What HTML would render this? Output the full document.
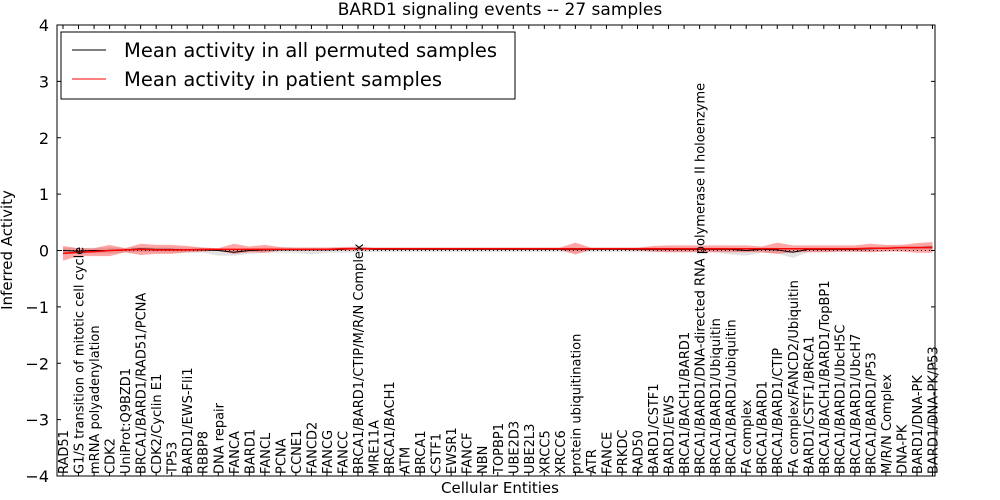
<!DOCTYPE html>
<html><head><meta charset="utf-8"><style>
html,body{margin:0;padding:0;background:#fff;}
svg{display:block;font-family:"DejaVu Sans","Liberation Sans",sans-serif;}
</style></head><body>
<svg id="chart" width="1000" height="500"></svg>
<script>
const categories=["RAD51","G1/S transition of mitotic cell cycle","mRNA polyadenylation","CDK2","UniProt:Q9BZD1","BRCA1/BARD1/RAD51/PCNA","CDK2/Cyclin E1","TP53","BARD1/EWS-Fli1","RBBP8","DNA repair","FANCA","BARD1","FANCL","PCNA","CCNE1","FANCD2","FANCG","FANCC","BRCA1/BARD1/CTIP/M/R/N Complex","MRE11A","BRCA1/BACH1","ATM","BRCA1","CSTF1","EWSR1","FANCF","NBN","TOPBP1","UBE2D3","UBE2L3","XRCC5","XRCC6","protein ubiquitination","ATR","FANCE","PRKDC","RAD50","BARD1/CSTF1","BARD1/EWS","BRCA1/BACH1/BARD1","BRCA1/BARD1/DNA-directed RNA polymerase II holoenzyme","BRCA1/BARD1/Ubiquitin","BRCA1/BARD1/ubiquitin","FA complex","BRCA1/BARD1","BRCA1/BARD1/CTIP","FA complex/FANCD2/Ubiquitin","BARD1/CSTF1/BRCA1","BRCA1/BACH1/BARD1/TopBP1","BRCA1/BARD1/UbcH5C","BRCA1/BARD1/UbcH7","BRCA1/BARD1/P53","M/R/N Complex","DNA-PK","BARD1/DNA-PK","BARD1/DNA-PK/P53"];
const patientMean=[-0.05,-0.03,-0.02,0,0.01,0.02,0.01,0.01,0.01,0.02,0.02,0.02,0.02,0.02,0.02,0.02,0.02,0.02,0.03,0.03,0.03,0.03,0.03,0.03,0.03,0.03,0.03,0.03,0.03,0.03,0.03,0.03,0.03,0.03,0.03,0.03,0.03,0.03,0.03,0.03,0.03,0.03,0.03,0.03,0.03,0.03,0.03,0.03,0.03,0.03,0.03,0.03,0.04,0.04,0.05,0.05,0.05];
const patientUpper=[0.08,0.04,0.04,0.1,0.04,0.12,0.1,0.1,0.08,0.05,0.04,0.12,0.07,0.1,0.06,0.05,0.05,0.05,0.06,0.07,0.05,0.05,0.05,0.05,0.05,0.05,0.05,0.05,0.05,0.05,0.05,0.05,0.05,0.14,0.05,0.05,0.05,0.05,0.08,0.09,0.09,0.09,0.09,0.09,0.09,0.07,0.14,0.09,0.09,0.09,0.09,0.09,0.12,0.1,0.1,0.13,0.15];
const patientLower=[-0.18,-0.1,-0.1,-0.1,-0.03,-0.08,-0.06,-0.06,-0.03,-0.02,0,-0.06,-0.03,-0.04,0,0,0,0,0,0,0.01,0.01,0.01,0.01,0.01,0.01,0.01,0.01,0.01,0.01,0.01,0.01,0.01,-0.07,0.01,0.01,0.01,0,-0.02,-0.03,-0.03,-0.03,-0.03,-0.03,-0.03,-0.03,-0.06,-0.03,-0.03,-0.03,-0.02,-0.02,-0.03,-0.02,-0.02,-0.04,-0.04];
const permMean=[0,-0.01,0,0,0.01,0.03,0.02,0.02,0.01,0.01,0,-0.03,0,0.01,0.01,0.01,0.01,0.01,0.02,0.03,0.02,0.02,0.02,0.02,0.02,0.02,0.02,0.02,0.02,0.02,0.02,0.02,0.02,0.02,0.02,0.02,0.02,0.02,0.02,0.02,0.02,0.02,0.02,0.02,0,0.02,0.01,-0.03,0.02,0.02,0.02,0.02,0.03,0.04,0.05,0.05,0.06];
const permUpper=[0.05,0.04,0.05,0.05,0.05,0.06,0.05,0.05,0.05,0.05,0.04,0.03,0.04,0.05,0.05,0.05,0.05,0.05,0.05,0.06,0.05,0.05,0.05,0.05,0.05,0.05,0.05,0.05,0.05,0.05,0.05,0.05,0.05,0.05,0.05,0.05,0.05,0.05,0.05,0.05,0.05,0.05,0.05,0.05,0.04,0.05,0.05,0.03,0.05,0.05,0.05,0.05,0.06,0.07,0.08,0.08,0.09];
const permLower=[-0.06,-0.06,-0.05,-0.05,-0.04,-0.03,-0.03,-0.03,-0.04,-0.04,-0.09,-0.09,-0.06,-0.04,-0.04,-0.04,-0.07,-0.04,-0.04,-0.03,-0.03,-0.03,-0.03,-0.03,-0.03,-0.03,-0.03,-0.03,-0.03,-0.03,-0.03,-0.03,-0.03,-0.03,-0.03,-0.03,-0.03,-0.03,-0.03,-0.03,-0.03,-0.03,-0.03,-0.07,-0.09,-0.04,-0.05,-0.13,-0.03,-0.03,-0.03,-0.03,-0.02,-0.01,0,0,0.01];
const yTicks=[4,3,2,1,0,-1,-2,-3,-4];

const NS="http://www.w3.org/2000/svg";
const svg=document.getElementById('chart');
const L=57,R=935,T=25,B=476;
const x=i=>63+i*(932.5-63)/(categories.length-1);
const y=v=>T+(4-v)/8*(B-T);
function mk(tag,attrs,parent){const e=document.createElementNS(NS,tag);for(const k in attrs)e.setAttribute(k,attrs[k]);(parent||svg).appendChild(e);return e;}

function band(up,lo,fill,name){
  let d="M"+up.map((v,i)=>x(i)+","+y(v)).join("L")+"L"+lo.map((v,i)=>[i,v]).reverse().map(p=>x(p[0])+","+y(p[1])).join("L")+"Z";
  const p=mk('path',{d:d,fill:fill,stroke:'none'});
  
  
}
function line(vals,stroke,w,name){
  const p=mk('path',{d:"M"+vals.map((v,i)=>x(i)+","+y(v)).join("L"),fill:'none',stroke:stroke,'stroke-width':w});
  
  
}
band(permUpper,permLower,'rgba(190,190,190,0.45)','permuted-band');
band(patientUpper,patientLower,'rgba(255,0,0,0.35)','patient-band');
const z=mk('line',{x1:L,x2:R,y1:y(0),y2:y(0),stroke:'#000','stroke-dasharray':'1,3','stroke-width':1});


line(permMean,'#000',1,'permuted-mean-line');
line(patientMean,'#f00',1.5,'patient-mean-line');

const fr=mk('rect',{x:L,y:T,width:R-L,height:B-T,fill:'none',stroke:'#000','stroke-width':1});


yTicks.forEach(v=>{
  mk('line',{x1:L,x2:L+4,y1:y(v),y2:y(v),stroke:'#000'});
  mk('line',{x1:R,x2:R-4,y1:y(v),y2:y(v),stroke:'#000'});
  const t=mk('text',{x:L-8,y:y(v)+6,'text-anchor':'end','font-size':16});
  t.textContent=(v<0?'\u2212'+(-v):String(v));
  
  
});
categories.forEach((c,i)=>{
  mk('line',{x1:x(i),x2:x(i),y1:B,y2:B-4,stroke:'#000'});
  mk('line',{x1:x(i),x2:x(i),y1:T,y2:T+4,stroke:'#000'});
  const t=mk('text',{transform:`translate(${x(i)+5},${B-2}) rotate(-90)`,'font-size':13});
  t.textContent=c;
  
  
});
const title=mk('text',{x:500,y:15,'text-anchor':'middle','font-size':17});
title.textContent='BARD1 signaling events -- 27 samples';


const xt=mk('text',{x:500,y:493,'text-anchor':'middle','font-size':15});
xt.textContent='Cellular Entities';


const yt=mk('text',{transform:'translate(12,250) rotate(-90)','text-anchor':'middle','font-size':15});
yt.textContent='Inferred Activity';



const lg=mk('g',{});


mk('rect',{x:61,y:32,width:454,height:67,fill:'#fff',stroke:'#000'},lg);
mk('line',{x1:72,x2:106,y1:50,y2:50,stroke:'#000'},lg);
mk('line',{x1:72,x2:106,y1:79,y2:79,stroke:'#f00'},lg);
const l1=mk('text',{x:124,y:57,'font-size':19.5},lg);l1.textContent='Mean activity in all permuted samples';


const l2=mk('text',{x:124,y:86,'font-size':19.5},lg);l2.textContent='Mean activity in patient samples';


</script>
</body></html>
